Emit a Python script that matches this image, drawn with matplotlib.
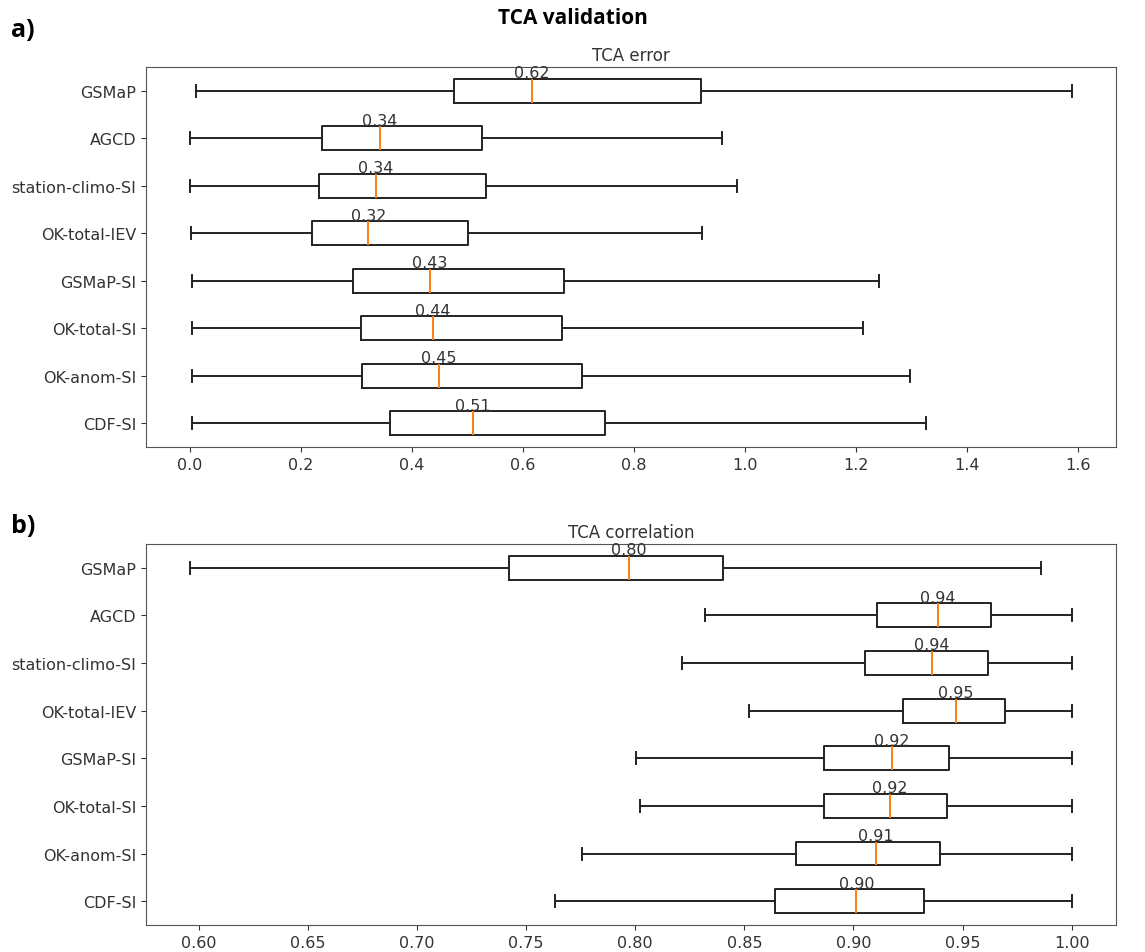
### Load packages

import matplotlib
matplotlib.use("Agg")
import matplotlib.pyplot as plt

### Data (listed top row first, as in the picture)

models = ["GSMaP", "AGCD", "station-climo-SI", "OK-total-IEV",
          "GSMaP-SI", "OK-total-SI", "OK-anom-SI", "CDF-SI"]

## TCA error
err_lo  = [0.012, 0.001, 0.001, 0.003, 0.004, 0.005, 0.005, 0.005]
err_q1  = [0.476, 0.238, 0.234, 0.220, 0.295, 0.308, 0.310, 0.362]
err_med = [0.616, 0.343, 0.336, 0.322, 0.433, 0.438, 0.449, 0.511]
err_q3  = [0.922, 0.526, 0.534, 0.501, 0.675, 0.671, 0.707, 0.748]
err_hi  = [1.589, 0.959, 0.987, 0.923, 1.242, 1.213, 1.298, 1.326]

## TCA correlation
cor_lo  = [0.596, 0.832, 0.8215, 0.852, 0.8005, 0.802, 0.7755, 0.763]
cor_q1  = [0.742, 0.911, 0.9054, 0.9225, 0.8865, 0.8865, 0.8738, 0.8641]
cor_med = [0.797, 0.9385, 0.936, 0.9468, 0.9177, 0.9166, 0.9103, 0.9013]
cor_q3  = [0.840, 0.963, 0.9616, 0.9695, 0.9438, 0.9429, 0.9395, 0.9321]
cor_hi  = [0.986, 1.0, 1.0, 1.0, 1.0, 1.0, 1.0, 1.0]

### Helper for one panel

def draw_panel(ax, lo, q1, med, q3, hi, title):
    n = len(models)
    stats = []
    # boxplot puts position 1 at the bottom, so reverse the order
    for i in reversed(range(n)):
        stats.append(dict(label=models[i], whislo=lo[i], q1=q1[i], med=med[i],
                          q3=q3[i], whishi=hi[i], fliers=[]))
    positions = list(range(1, n + 1))
    ax.bxp(stats, positions=positions, orientation="horizontal",
           showfliers=False,
           boxprops=dict(color="#222222", lw=1.4),
           whiskerprops=dict(color="#222222", lw=1.4),
           capprops=dict(color="#222222", lw=1.4),
           medianprops=dict(color="#ff7f0e", lw=1.4))
    for p, s in zip(positions, stats):
        ax.text(s["med"], p + 0.22, "%.2f" % s["med"], ha="center", va="bottom",
                fontsize=11.5, color="#333333")
    ax.set_title(title, fontsize=12, color="#333333", pad=5)
    ax.tick_params(labelsize=11.5, colors="#333333")
    for sp in ax.spines.values():
        sp.set_color("#555555")

### Figure

fig = plt.figure(figsize=(11.45, 9.53), dpi=100)
ax1 = fig.add_axes([0.1275, 0.530, 0.847, 0.3987])
ax2 = fig.add_axes([0.1275, 0.0283, 0.847, 0.400])

draw_panel(ax1, err_lo, err_q1, err_med, err_q3, err_hi, "TCA error")
draw_panel(ax2, cor_lo, cor_q1, cor_med, cor_q3, cor_hi, "TCA correlation")

fig.text(0.5, 0.981, "TCA validation", ha="center", va="center",
         fontsize=15, fontweight="bold", family="Open Sans")
fig.text(0.010, 0.968, "a)", ha="left", va="center",
         fontsize=18, fontweight="bold", family="Open Sans")
fig.text(0.010, 0.448, "b)", ha="left", va="center",
         fontsize=18, fontweight="bold", family="Open Sans")

fig.savefig("out.png", dpi=100)
